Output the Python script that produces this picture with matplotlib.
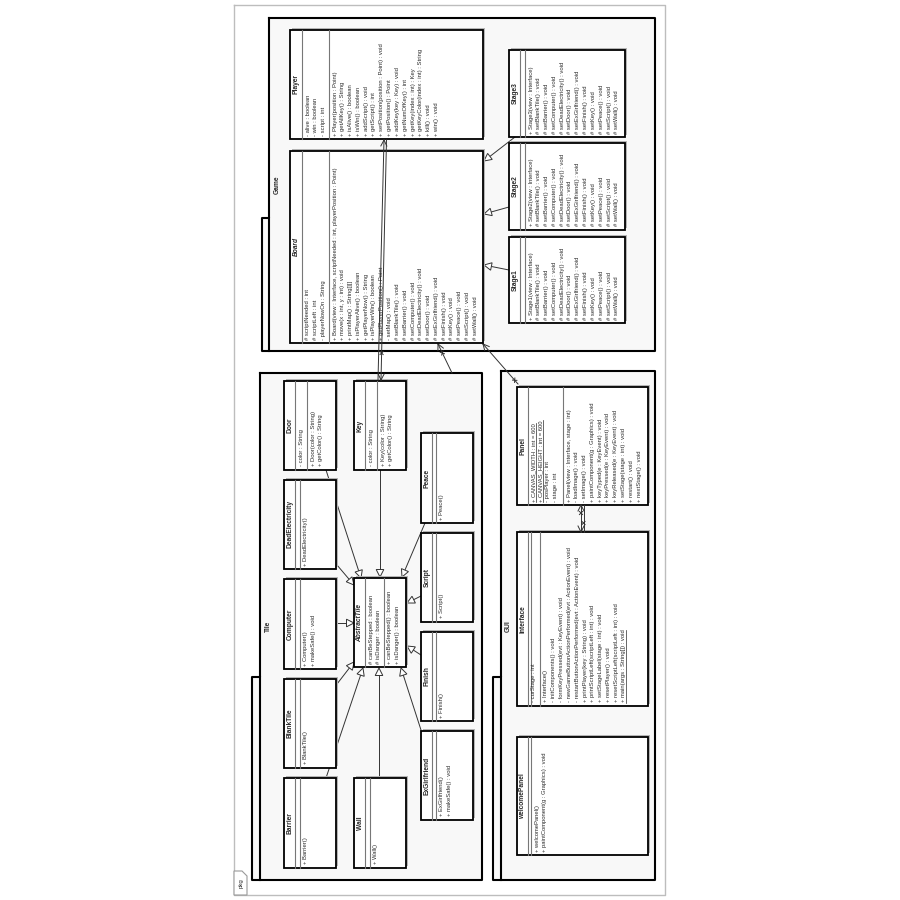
import matplotlib
matplotlib.use('Agg')
import matplotlib.pyplot as plt
from matplotlib.patches import Rectangle, Polygon
import numpy as np

plt.rcParams['font.family'] = ['Liberation Sans', 'DejaVu Sans']

# ---------------- data (text content) ----------------
package_names = ["Game", "Tile", "GUI"]
frame_label = "pkg"

player_attrs = ["- alive : boolean", "- win : boolean", "- script : int"]
player_methods = ["+ Player(position : Point)", "+ getAllKey() : String", "+ isAlive() : boolean",
                  "+ isWin() : boolean", "+ addScript() : void", "+ getScript() : int",
                  "+ setPosition(position : Point) : void", "+ getPosition() : Point",
                  "+ addKey(key : Key) : void", "+ getNumOfKey() : int", "+ getKey(index : int) : Key",
                  "+ getKeyColor(index : int) : String", "+ kill() : void", "+ win() : void"]

board_attrs = ["# scriptNeeded : int", "# scriptLeft : int", "- playerNowOn : String"]
board_methods = ["+ Board(view : Interface, scriptNeeded : int, playerPosition : Point)",
                 "+ move(x : int, y : int) : void", "+ printMap() : String[][]",
                 "+ isPlayerAlive() : boolean", "+ getPlayerNow() : String", "+ isPlayerWin() : boolean",
                 "+ getPlayerPosition() : Point", "- setMap() : void", "# setBlankTile() : void",
                 "# setBarrier() : void", "# setComputer() : void", "# setDeadElectricity() : void",
                 "# setDoor() : void", "# setExGirlfriend() : void", "# setFinish() : void",
                 "# setKey() : void", "# setPeace() : void", "# setScript() : void", "# setWall() : void"]

stage_common = ["# setBlankTile() : void", "# setBarrier() : void", "# setComputer() : void",
                "# setDeadElectricity() : void", "# setDoor() : void", "# setExGirlfriend() : void",
                "# setFinish() : void", "# setKey() : void", "# setPeace() : void",
                "# setScript() : void", "# setWall() : void"]
stage1_methods = ["+ Stage1(view : Interface)"] + stage_common
stage2_methods = ["+ Stage2(view : Interface)"] + stage_common
stage3_methods = ["+ Stage3(view : Interface)"] + stage_common

door_attrs = ["- color : String"]
door_methods = ["+ Door(color : String)", "+ getColor() : String"]
key_attrs = ["- color : String"]
key_methods = ["+ Key(color : String)", "+ getColor() : String"]
deadelectricity_methods = ["+ DeadElectricity()"]
computer_methods = ["+ Computer()", "+ makeSafe() : void"]
blanktile_methods = ["+ BlankTile()"]
barrier_methods = ["+ Barrier()"]
wall_methods = ["+ Wall()"]
abstracttile_attrs = ["# canBeStepped : boolean", "# isDanger : boolean"]
abstracttile_methods = ["+ canBeStepped() : boolean", "+ isDanger() : boolean"]
peace_methods = ["+ Peace()"]
script_methods = ["+ Script()"]
finish_methods = ["+ Finish()"]
exgirlfriend_methods = ["+ ExGirlfriend()", "+ makeSafe() : void"]

panel_attrs = ["+ CANVAS_WIDTH : int = 600", "+ CANVAS_HEIGHT : int = 600", "- posPlayer : int", "- stage : int"]
panel_static = [True, True, False, False]
panel_methods = ["+ Panel(view : Interface, stage : int)", "- loadImage() : void", "- setImage() : void",
                 "+ paintComponent(g : Graphics) : void", "+ keyTyped(e : KeyEvent) : void",
                 "+ keyPressed(e : KeyEvent) : void", "+ keyReleased(e : KeyEvent) : void",
                 "+ setStage(stage : int) : void", "+ restart() : void", "+ nextStage() : void"]
interface_attrs = ["- curStage : int"]
interface_methods = ["+ Interface()", "- initComponents() : void", "- formKeyPressed(evt : KeyEvent) : void",
                     "- newGameButtonActionPerformed(evt : ActionEvent) : void",
                     "- restartButtonActionPerformed(evt : ActionEvent) : void",
                     "+ printPlayer(key : String) : void", "+ printScriptLeft(scriptLeft : int) : void",
                     "+ setStageLabel(stage : int) : void", "+ resetPlayer() : void",
                     "+ resetScriptLeft(scriptLeft : int) : void", "+ main(args : String[]) : void"]
interface_static = [False] * 10 + [True]
welcomepanel_methods = ["+ welcomePanel()", "+ paintComponent(g : Graphics) : void"]

# ---------------- figure ----------------
fig = plt.figure(figsize=(9, 9), dpi=100)
ax = fig.add_axes([0, 0, 1, 1])
ax.set_xlim(0, 900)
ax.set_ylim(900, 0)
ax.axis('off')

FS = 4.25
FST = 4.8
TXT = '#2a2a2a'
LINE = '#333333'
underlines = []


def vtext(x, y, s, ha='left', bold=False, italic=False, fs=FS, z=6, underline=False):
    t = ax.text(x, y, s, rotation=90, rotation_mode='anchor', ha=ha, va='center',
                fontsize=fs, color=TXT, fontweight='bold' if bold else 'normal',
                fontstyle='italic' if italic else 'normal', zorder=z)
    if underline:
        underlines.append(t)
    return t


def package(x0, y0, x1, y1, tabx, taby, label, lx, ly):
    ax.add_patch(Rectangle((x0, y0), x1 - x0, y1 - y0, fc='#f8f8f8', ec='none', zorder=0.5))
    ax.add_patch(Rectangle((tabx, taby), x0 - tabx, y1 - taby, fc='#f8f8f8', ec='none', zorder=0.5))
    kw = dict(color='black', lw=1.5, zorder=1, solid_capstyle='projecting')
    ax.plot([x0, x1, x1, tabx, tabx, x0, x0], [y0, y0, y1, y1, taby, taby, y0], **kw)
    ax.plot([x0, x0], [taby, y1], **kw)
    vtext(lx, ly, label, ha='center', bold=True, fs=FST)


def uml_class(name, x0, y0, x1, y1, t, a, attrs=(), methods=(), italic=False,
              asp=7.8, msp=7.8, astatic=None, mstatic=None):
    ax.add_patch(Rectangle((x0 + 2.2, y0 - 2.2), x1 - x0, y1 - y0, fc='#b5b5b5', ec='none', zorder=3))
    ax.add_patch(Rectangle((x0, y0), x1 - x0, y1 - y0, fc='white', ec='black', lw=1.3, zorder=3.2))
    ax.plot([t, t], [y0, y1], color='#777777', lw=0.8, zorder=3.5)
    ax.plot([a, a], [y0, y1], color='#777777', lw=0.8, zorder=3.5)
    vtext((x0 + t) / 2 + 0.5, (y0 + y1) / 2, name, ha='center', bold=True, italic=italic, fs=FST)
    ys = y1 - 3.5
    for i, s in enumerate(attrs):
        vtext(t + 6 + i * asp, ys, s, underline=bool(astatic and astatic[i]))
    for i, s in enumerate(methods):
        vtext(a + 6 + i * msp, ys, s, underline=bool(mstatic and mstatic[i]))


def unit(p, q):
    d = np.array(q, float) - np.array(p, float)
    return d / np.hypot(*d)


def generalization(p, q, z=2):
    d = unit(p, q)
    n = np.array([-d[1], d[0]])
    q = np.array(q, float)
    base = q - d * 7.5
    ax.plot([p[0], base[0]], [p[1], base[1]], color=LINE, lw=0.7, zorder=z)
    ax.add_patch(Polygon([q, base + n * 3.8, base - n * 3.8], closed=True, fc='white',
                         ec=LINE, lw=0.7, zorder=z + 0.1))


def open_head(q, d, z):
    n = np.array([-d[1], d[0]])
    q = np.array(q, float)
    b = q - d * 6
    for s in (1, -1):
        pt = b + s * n * 3
        ax.plot([pt[0], q[0]], [pt[1], q[1]], color=LINE, lw=0.7, zorder=z)


def xmark(c, d, z, s=2.2):
    n = np.array([-d[1], d[0]])
    c = np.array(c, float)
    for v in (d + n, d - n):
        v = v / np.hypot(*v) * s
        ax.plot([c[0] - v[0], c[0] + v[0]], [c[1] - v[1], c[1] + v[1]], color=LINE, lw=0.7, zorder=z)


def association(p, q, head_p=False, head_q=False, x_p=None, x_q=None, z=2):
    ax.plot([p[0], q[0]], [p[1], q[1]], color=LINE, lw=0.7, zorder=z)
    d = unit(p, q)
    if head_q:
        open_head(q, d, z)
    if head_p:
        open_head(p, -d, z)
    if x_p is not None:
        xmark(np.array(p, float) + d * x_p, d, z)
    if x_q is not None:
        xmark(np.array(q, float) - d * x_q, d, z)


# ---------------- outer frame ----------------
ax.plot([234, 665, 665, 234, 234], [5, 5, 895, 895, 5], color='#bdbdbd', lw=1.0, zorder=0.3)
ax.add_patch(Polygon([(234, 895), (234, 871), (242, 871), (247, 876), (247, 895)], closed=True,
                     fc='white', ec='#9a9a9a', lw=0.8, zorder=0.4))
vtext(241.5, 883, frame_label, ha='center', fs=4.4)

# ---------------- packages ----------------
package(269, 18, 655, 351, 262, 218, package_names[0], 277, 185)
package(260, 373, 482, 880, 252, 677, package_names[1], 268, 626)
package(501, 371, 655, 880, 493, 677, package_names[2], 508, 626)

# ---------------- connectors (behind boxes) ----------------
generalization((515, 137), (484, 161))
generalization((509, 207), (484, 214))
generalization((509, 270), (484, 265))

generalization((326, 470), (361, 578))        # Door
generalization((380, 470), (380, 577))        # Key
generalization((425, 523), (402, 577))        # Peace
generalization((421, 596), (407, 603))        # Script
generalization((421, 655), (407, 646))        # Finish
generalization((421, 730), (401, 668))        # ExGirlfriend
generalization((379, 778), (379, 668))        # Wall
generalization((326, 778), (363, 668))        # Barrier
generalization((337, 684), (354, 662))        # BlankTile
generalization((337, 623), (354, 623))        # Computer
generalization((337, 565), (354, 585))        # DeadElectricity

association((452, 373), (438, 344), head_q=True, x_q=10)
association((518, 384), (483, 344), head_q=True, x_p=5)

# ---------------- classes ----------------
uml_class("Player", 290, 30, 483, 139, 302, 329, player_attrs, player_methods)
uml_class("Board", 290, 151, 483, 343, 302, 329, board_attrs, board_methods, italic=True)
uml_class("Stage3", 509, 50, 625, 137, 520, 525, (), stage3_methods)
uml_class("Stage2", 509, 143, 625, 230, 520, 525, (), stage2_methods)
uml_class("Stage1", 509, 237, 625, 323, 520, 525, (), stage1_methods)

uml_class("Door", 284, 381, 336, 470, 295, 307, door_attrs, door_methods)
uml_class("Key", 354, 381, 406, 470, 365, 377, key_attrs, key_methods)
uml_class("DeadElectricity", 284, 480, 336, 569, 295, 300, (), deadelectricity_methods)
uml_class("Computer", 284, 579, 336, 669, 295, 300, (), computer_methods)
uml_class("BlankTile", 284, 679, 336, 768, 295, 300, (), blanktile_methods)
uml_class("Barrier", 284, 778, 336, 868, 295, 300, (), barrier_methods)
uml_class("Wall", 354, 778, 406, 868, 365, 370, (), wall_methods)
uml_class("AbstractTile", 354, 578, 406, 667, 365, 384, abstracttile_attrs, abstracttile_methods,
          italic=True, asp=7.5, msp=7.5)
uml_class("Peace", 421, 433, 473, 523, 432, 436, (), peace_methods)
uml_class("Script", 421, 533, 473, 622, 432, 436, (), script_methods)
uml_class("Finish", 421, 632, 473, 721, 432, 436, (), finish_methods)
uml_class("ExGirlfriend", 421, 731, 473, 820, 432, 436, (), exgirlfriend_methods)

uml_class("Panel", 517, 387, 648, 505, 528, 563, panel_attrs, panel_methods, asp=7.0,
          astatic=panel_static)
uml_class("Interface", 517, 532, 648, 706, 528, 540, interface_attrs, interface_methods,
          mstatic=interface_static)
ax.plot([530.5, 530.5], [532, 706], color='#777777', lw=0.8, zorder=3.5)
uml_class("welcomePanel", 517, 737, 648, 855, 528, 531, (), welcomepanel_methods)

# ---------------- connectors on top ----------------
association((384, 140), (378, 380), head_p=True, z=5)
association((386.5, 140), (381, 380), head_q=True, x_q=27, z=5)
association((581, 505), (581, 532), head_p=True, head_q=True, x_p=8, z=5)
association((583.5, 505), (583.5, 532), x_q=9, z=5)

# ---------------- underline static members ----------------
fig.canvas.draw()
r = fig.canvas.get_renderer()
inv = ax.transData.inverted()
for t in underlines:
    bb = t.get_window_extent(renderer=r)
    (xa, ya), (xb, yb) = inv.transform([[bb.x0, bb.y0], [bb.x1, bb.y1]])
    ax.plot([max(xa, xb) - 0.3, max(xa, xb) - 0.3], [ya, yb], color=TXT, lw=0.5, zorder=6)

fig.savefig('out.png', dpi=100, facecolor='white')
